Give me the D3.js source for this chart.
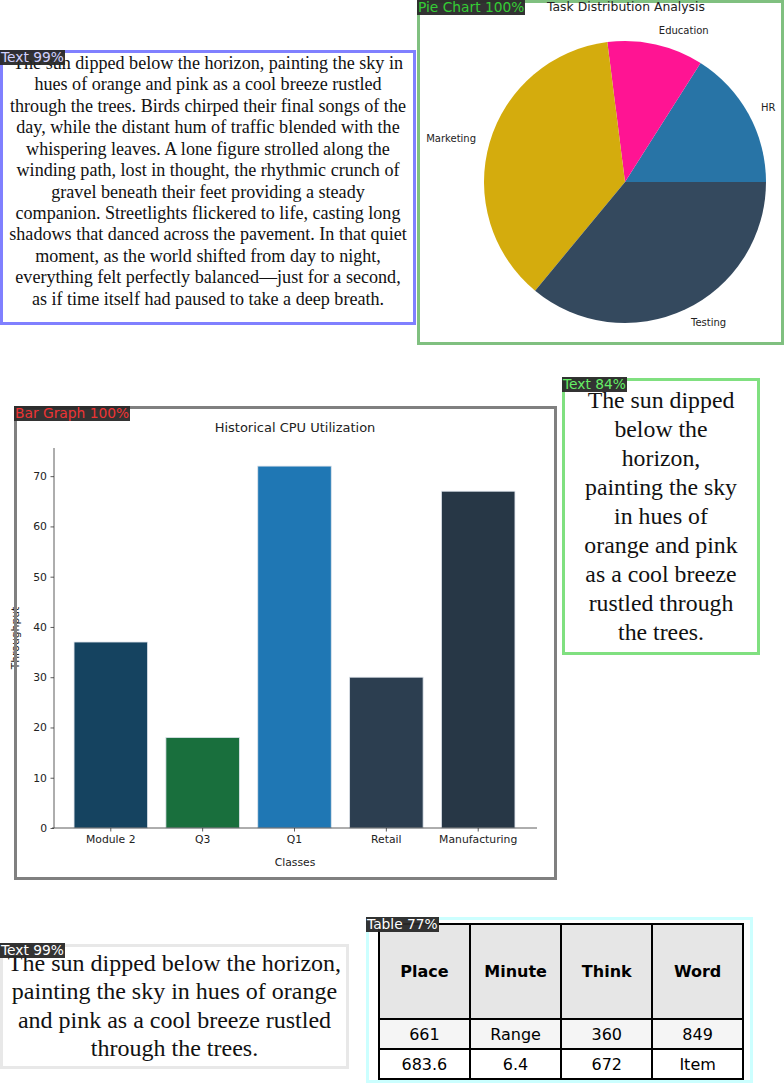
<!DOCTYPE html>
<html>
<head>
<meta charset="utf-8">
<script src="https://cdn.jsdelivr.net/npm/d3@7"></script>
<style>
  body { margin: 0; background: #fff; }
  #page { position: relative; width: 784px; height: 1091px; overflow: hidden; }
  .tbox { position: absolute; box-sizing: border-box; font-family: "Liberation Serif", "Times New Roman", serif;
          color: #111; text-align: center; display: flex; align-items: center; justify-content: center; }
  .tag { position: absolute; font-family: "DejaVu Sans", sans-serif; font-size: 13.8px; line-height: 15px;
         background: rgba(40,40,40,0.95); padding: 0 1px; white-space: nowrap; z-index: 5; }
  table.dt { position: absolute; border-collapse: collapse; font-family: "DejaVu Sans", sans-serif; font-size: 16px; }
  table.dt td { border: 2px solid #000; text-align: center; padding: 0; }
  svg { position: absolute; left: 0; top: 0; }
</style>
</head>
<body>
<div id="page"></div>
<script>
// 文本内容
const longText = "The sun dipped below the horizon, painting the sky in hues of orange and pink as a cool breeze rustled through the trees. Birds chirped their final songs of the day, while the distant hum of traffic blended with the whispering leaves. A lone figure strolled along the winding path, lost in thought, the rhythmic crunch of gravel beneath their feet providing a steady companion. Streetlights flickered to life, casting long shadows that danced across the pavement. In that quiet moment, as the world shifted from day to night, everything felt perfectly balanced\u2014just for a second, as if time itself had paused to take a deep breath.";
const shortText = "The sun dipped below the horizon, painting the sky in hues of orange and pink as a cool breeze rustled through the trees.";

// 饼图数据
const pieLabels = ["HR", "Education", "Marketing", "Testing"];
const pieValues = [16, 11, 37, 36];
const pieColors = ["#2874a6", "#ff1493", "#d4ac0d", "#34495e"];

// 柱状图数据
const barCategories = ["Module 2", "Q3", "Q1", "Retail", "Manufacturing"];
const barValues = [37, 18, 72, 30, 67];
const barColors = ["#154360", "#196f3d", "#1f77b4", "#2c3e50", "#273746"];
const barTicks = [0, 10, 20, 30, 40, 50, 60, 70];

// 表格数据
const tableHeader = ["Place", "Minute", "Think", "Word"];
const tableRows = [["661", "Range", "360", "849"], ["683.6", "6.4", "672", "Item"]];

const page = d3.select("#page");
const svg = page.append("svg").attr("width", 784).attr("height", 1091);

// 标签小块
function tag(x, y, txt, color) {
    page.append("div").attr("class", "tag")
        .style("left", x + "px").style("top", y + "px")
        .style("color", color).text(txt);
}

// 文本框 (shiftUp: 文字块向上偏移)
function textBox(x, y, w, h, border, size, lh, txt, pad, shiftUp) {
    page.append("div").attr("class", "tbox")
        .style("left", x + "px").style("top", y + "px")
        .style("width", w + "px").style("height", h + "px")
        .style("border", "3px solid " + border)
        .style("font-size", size + "px").style("line-height", lh + "px")
        .style("padding", "0 " + pad + "px " + (shiftUp * 2) + "px " + pad + "px")
        .append("div").text(txt);
}

textBox(0, 50, 416, 275, "#8080ff", 18.1, 21.4, longText, 4, 6);
tag(0, 50, "Text 99%", "#d0d0ff");

textBox(562, 378, 198, 277, "#80e080", 23.8, 29, shortText, 16.5, 0);
tag(562, 377, "Text 84%", "#66ee66");

textBox(0, 944, 349, 125, "#e8e8e8", 24, 28.5, shortText, 2, 1);
tag(0, 943, "Text 99%", "#ffffff");

// ---------------- 饼图 ----------------
const pieG = svg.append("g");
pieG.append("rect").attr("x", 418.5).attr("y", 1.5).attr("width", 364).attr("height", 342)
    .attr("fill", "none").attr("stroke", "#80c080").attr("stroke-width", 3);
pieG.append("text").attr("x", 626).attr("y", 11).attr("text-anchor", "middle")
    .attr("font-family", "DejaVu Sans").attr("font-size", 12.4).attr("fill", "#222")
    .text("Task Distribution Analysis");

const pcx = 625, pcy = 182, pr = 141;
// 从三点钟方向逆时针（模仿matplotlib）
const pie = d3.pie().sort(null).startAngle(Math.PI / 2).endAngle(Math.PI / 2 - 2 * Math.PI);
const arcs = pie(pieValues);
const arc = d3.arc().innerRadius(0).outerRadius(pr);
const pg = pieG.append("g").attr("transform", `translate(${pcx},${pcy})`);
pg.selectAll("path").data(arcs).enter().append("path")
    .attr("d", arc).attr("fill", (d, i) => pieColors[i]);
pg.selectAll("text").data(arcs).enter().append("text")
    .attr("x", d => Math.sin((d.startAngle + d.endAngle) / 2) * pr * 1.1)
    .attr("y", d => -Math.cos((d.startAngle + d.endAngle) / 2) * pr * 1.1)
    .attr("text-anchor", d => Math.sin((d.startAngle + d.endAngle) / 2) > 0 ? "start" : "end")
    .attr("dominant-baseline", "central")
    .attr("font-family", "DejaVu Sans").attr("font-size", 10).attr("fill", "#222")
    .text((d, i) => pieLabels[i]);
tag(417, 0, "Pie Chart 100%", "#33cc33");

// ---------------- 柱状图 ----------------
const bg = svg.append("g");
const x0 = 54, x1 = 537, yTop = 448, yBase = 828;
const xScale = d3.scaleBand().domain(barCategories).range([x0 - 2, x1]).paddingInner(0.2).paddingOuter(0.24);
const yScale = d3.scaleLinear().domain([0, 75.6]).range([yBase, yTop]);

bg.append("text").attr("x", 295).attr("y", 432).attr("text-anchor", "middle")
    .attr("font-family", "DejaVu Sans").attr("font-size", 13).attr("fill", "#222")
    .text("Historical CPU Utilization");

bg.selectAll(".bar").data(barValues).enter().append("rect")
    .attr("class", "bar")
    .attr("x", (d, i) => xScale(barCategories[i]))
    .attr("y", d => yScale(d))
    .attr("width", xScale.bandwidth())
    .attr("height", d => yBase - yScale(d))
    .attr("fill", (d, i) => barColors[i])
    .attr("stroke", "#dde3ea").attr("stroke-width", 0.8);

const yAxis = d3.axisLeft(yScale).tickValues(barTicks).tickSize(3.5).tickPadding(3.5);
const yAxisG = bg.append("g").attr("transform", `translate(${x0},0)`).call(yAxis);
const xAxis = d3.axisBottom(xScale).tickSize(3.5).tickPadding(3.5);
const xAxisG = bg.append("g").attr("transform", `translate(0,${yBase})`).call(xAxis);
[yAxisG, xAxisG].forEach(a => {
    a.selectAll("text").attr("font-family", "DejaVu Sans").attr("font-size", 10.8).attr("fill", "#222");
    a.selectAll("line").attr("stroke", "#333").attr("stroke-width", 0.8);
    a.select(".domain").attr("stroke", "#333").attr("stroke-width", 0.8);
});
yAxisG.select(".domain").attr("d", `M0,${yBase}V${yTop}`);
xAxisG.select(".domain").attr("d", `M${x0 - 2},0H${x1}`);

bg.append("text").attr("x", 295).attr("y", 866).attr("text-anchor", "middle")
    .attr("font-family", "DejaVu Sans").attr("font-size", 10.8).attr("fill", "#222").text("Classes");
bg.append("text").attr("transform", "translate(19,638) rotate(-90)").attr("text-anchor", "middle")
    .attr("font-family", "DejaVu Sans").attr("font-size", 10.8).attr("fill", "#222").text("Throughput");

bg.append("rect").attr("x", 15.5).attr("y", 407.5).attr("width", 540).attr("height", 471)
    .attr("fill", "none").attr("stroke", "#808080").attr("stroke-width", 3);
tag(14, 406, "Bar Graph 100%", "#ee3333");

// ---------------- 表格 ----------------
svg.append("rect").attr("x", 367.5).attr("y", 918.5).attr("width", 384).attr("height", 163)
    .attr("fill", "none").attr("stroke", "#ccffff").attr("stroke-width", 3);
const table = page.append("table").attr("class", "dt")
    .style("left", "378px").style("top", "923px").style("width", "366px");
const hr = table.append("tr").style("height", "95px").style("background", "#e6e6e6");
hr.selectAll("td").data(tableHeader).enter().append("td")
    .style("font-weight", "bold").style("width", "91px").text(d => d);
table.selectAll("tr.row").data(tableRows).enter().append("tr").attr("class", "row")
    .style("height", "30px")
    .style("background", (d, i) => i === 0 ? "#f5f5f5" : "#ffffff")
    .selectAll("td").data(d => d).enter().append("td").text(d => d);
tag(366, 917, "Table 77%", "#ffffff");
</script>
</body>
</html>
